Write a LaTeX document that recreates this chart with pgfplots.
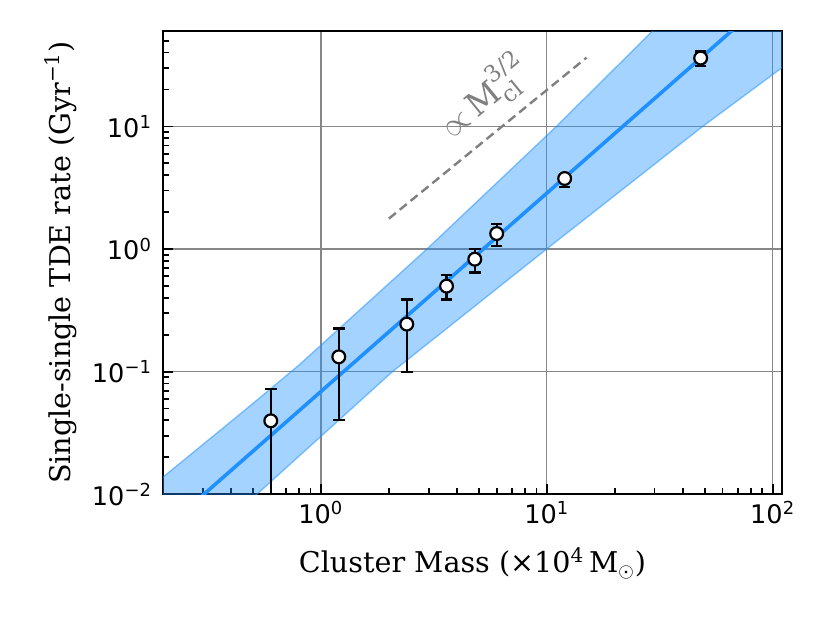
\documentclass[border=0pt]{standalone}
\usepackage{fontspec}
\setmainfont{DejaVu Serif}
\newfontfamily\tickfont{DejaVu Sans}
\usepackage{pgfplots}
\pgfplotsset{compat=1.18}
\definecolor{dblue}{RGB}{30,144,255}
\definecolor{gridgray}{RGB}{135,135,135}
\begin{document}
\begin{tikzpicture}
\path[use as bounding box] (-81.5pt,-64.4pt) rectangle (333.5pt,247.1pt);
\begin{axis}[
  at={(0,0)}, anchor=south west,
  scale only axis, width=309.5pt, height=231.6pt,
  xmode=log, ymode=log,
  xmin=0.2, xmax=110, ymin=0.01, ymax=60,
  axis line style={line width=1pt},
  xtick={1,10,100},
  xticklabels={10\textsuperscript{0},10\textsuperscript{1},10\textsuperscript{2}},
  ytick={0.01,0.1,1,10},
  yticklabels={10\textsuperscript{−2},10\textsuperscript{−1},10\textsuperscript{0},10\textsuperscript{1}},
  minor xtick={0.3,0.4,0.5,0.6,0.7,0.8,0.9,2,3,4,5,6,7,8,9,20,30,40,50,60,70,80,90},
  minor ytick={0.02,0.03,0.04,0.05,0.06,0.07,0.08,0.09,0.2,0.3,0.4,0.5,0.6,0.7,0.8,0.9,2,3,4,5,6,7,8,9,20,30,40,50,60},
  xtick pos=bottom, ytick pos=left,
  tick align=inside,
  major tick length=5pt, minor tick length=3pt,
  every tick/.style={black, line width=0.9pt},
  grid=major,
  major grid style={gridgray, line width=0.7pt},
  tick label style={font=\tickfont\fontsize{12.8}{14}\selectfont},
  yticklabel style={xshift=-2pt},
  label style={font=\fontsize{14.3}{16}\selectfont},
  xlabel={Cluster Mass (×10\textsuperscript{4}\,M$_{\odot}$)},
  ylabel={Single-single TDE rate (Gyr\textsuperscript{−1})},
  xlabel style={at={(axis description cs:0.5,-0.170)}, anchor=base},
  ylabel style={at={(axis description cs:-0.150,0.5)}, anchor=base},
  clip=true,
]
% confidence band
\addplot[draw=dblue, draw opacity=0.5, line width=0.7pt, fill=dblue, fill opacity=0.4] coordinates {
 (0.1564,0.00960) (0.1978,0.01355) (0.4803,0.05163) (0.7998,0.1130) (2.942,0.9963) (10.96,9.888) (29.27,59.6) (42.7,119)
 (300,300)
 (130.9,38.2) (109.0,29.75) (48.6,9.886) (9.899,0.987) (2.071,0.0996) (0.5212,0.01) (0.4337,0.00736)
} -- cycle;
% best-fit line
\addplot[dblue, line width=1.8pt] coordinates {(0.2,0.00509) (110,138)};
% slope guide
\addplot[gray, line width=1.2pt, dash pattern=on 4.5pt off 2.5pt] coordinates {(2,1.77) (15,36.4)};
% data
\addplot[only marks, mark=*, mark size=3.2pt, mark options={fill=white, draw=black, line width=1.1pt},
  error bars/.cd, y dir=both, y explicit,
  error bar style={black, line width=1.1pt},
  error mark options={rotate=90, mark size=2.9pt, line width=1.1pt, black}]
coordinates {
 (0.6,0.0397) += (0,0.0322) -= (0,0.0396)
 (1.2,0.132) += (0,0.093) -= (0,0.0917)
 (2.4,0.244) += (0,0.1435) -= (0,0.1444)
 (3.6,0.498) += (0,0.113) -= (0,0.1105)
 (4.8,0.826) += (0,0.17) -= (0,0.183)
 (6.0,1.337) += (0,0.253) -= (0,0.277)
 (12,3.76) += (0,0.36) -= (0,0.55)
 (48,36.1) += (0,4.8) -= (0,5.1)
};
\node[gray, rotate=39.2, font=\fontsize{16.5}{18}\selectfont] at (axis cs:5.3,17.2) {$\propto$\,M\rlap{\raisebox{-0.28em}{\fontsize{11.5}{12}\selectfont cl}}\raisebox{0.5em}{\fontsize{11.5}{12}\selectfont 3/2}};
\end{axis}
\end{tikzpicture}
\end{document}
